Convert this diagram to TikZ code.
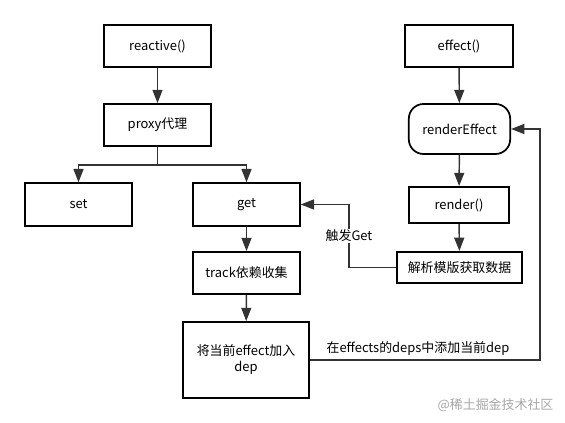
\documentclass[tikz,border=0pt]{standalone}
\usepackage{fontspec}
\setmainfont{Noto Sans CJK SC}
\usetikzlibrary{arrows.meta}
\usetikzlibrary{positioning}

\begin{document}
\begin{tikzpicture}[
    x=0.75pt, y=-0.75pt,
    box/.style={rectangle, draw, line width=1.3pt, inner sep=0pt, font=\fontsize{9.7}{12}\selectfont},
    roundbox/.style={box, rounded corners=11pt},
    arr/.style={draw=black!80, line width=1.1pt, -{Triangle[length=10pt, width=7.5pt]}},
    lbl/.style={font=\fontsize{9.7}{12}\selectfont, inner sep=1pt}
]
\useasboundingbox (0,0) rectangle (565,423);

% --- left column ---
\node[box, minimum width=80pt, minimum height=31.5pt] (reactive) at (157.5,46) {reactive()};
\node[box, minimum width=80pt, minimum height=31.5pt] (proxy) at (157.5,125) {proxy代理};
\node[box, minimum width=80pt, minimum height=32pt] (set) at (78.5,204.5) {set};
\node[box, minimum width=80pt, minimum height=32pt] (get) at (246.5,204.5) {get};
\node[box, minimum width=80pt, minimum height=31.5pt] (track) at (246.5,273) {track依赖收集};
\node[box, minimum width=94.5pt, minimum height=57pt, align=center] (dep) at (246,360) {将当前effect加入\\dep};

% --- right column ---
\node[box, minimum width=81pt, minimum height=31.5pt] (effect) at (459,46) {effect()};
\node[roundbox, minimum width=76pt, minimum height=37.5pt] (renderEffect) at (459.5,129) {renderEffect};
\node[box, minimum width=75pt, minimum height=27pt] (render) at (459,205) {render()};
\node[box, minimum width=94pt, minimum height=23.5pt] (parse) at (459.5,267.5) {解析模版获取数据};

% --- bend points ---
\coordinate (split) at (157.5,165);
\coordinate (trig) at (349,236);
\coordinate (loop) at (540,250);

% --- arrows ---
\draw[arr] (reactive) -- (proxy);
\draw[draw=black!80, line width=1.1pt] (proxy.south) -- (split);
\draw[arr] (split) -| (set.north);
\draw[arr] (split) -| (get.north);
\draw[arr] (get) -- (track);
\draw[arr] (track) -- (dep);
\draw[arr] (effect) -- (renderEffect);
\draw[arr] (renderEffect) -- (render);
\draw[arr] (render) -- (parse);

\draw[arr] (parse.west) -| (trig) |- (get.east);
\node[lbl, fill=white] (trigLabel) at (trig) {触发Get};

\draw[arr] (dep.east) -| (loop) |- (renderEffect.east);
\node[lbl, anchor=south west] (loopLabel) at (325,357) {在effects的deps中添加当前dep};

% --- watermark ---
\node[lbl, text=black!35, anchor=east] (mark) at (555,405) {@稀土掘金技术社区};
\end{tikzpicture}
\end{document}
